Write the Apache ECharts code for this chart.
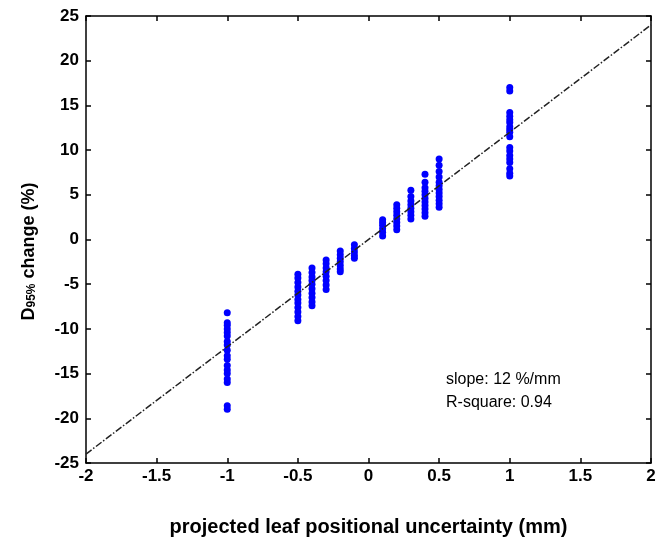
<!DOCTYPE html>
<html>
<head>
<meta charset="utf-8">
<script src="https://cdn.jsdelivr.net/npm/echarts@6/dist/echarts.min.js"></script>
<style>
  html, body { margin: 0; padding: 0; background: #fff; }
  #chart { width: 667px; height: 542px; }
</style>
</head>
<body>
<div id="chart"></div>
<script>
// leaf shift (mm) -> D95% change (%) samples
const shifts = [-1, -0.5, -0.4, -0.3, -0.2, -0.1, 0.1, 0.2, 0.3, 0.4, 0.5, 1]
const changes = [
  [-8.2, -9.3, -9.6, -10.0, -10.4, -10.8, -11.4, -11.8, -12.4, -13.0, -13.4, -14.1, -14.6, -15.0, -15.6, -16.0, -18.6, -19.0],
  [-3.9, -4.3, -4.8, -5.3, -5.8, -6.2, -6.7, -7.1, -7.6, -8.1, -8.6, -9.1],
  [-3.2, -3.7, -4.2, -4.6, -5.0, -5.5, -6.0, -6.5, -7.0, -7.4],
  [-2.3, -2.7, -3.2, -3.6, -4.1, -4.6, -5.1, -5.6],
  [-1.3, -1.7, -2.1, -2.5, -2.9, -3.3, -3.6],
  [-0.6, -1.0, -1.4, -1.8, -2.1],
  [0.4, 0.8, 1.2, 1.6, 1.9, 2.2],
  [1.1, 1.5, 1.9, 2.3, 2.7, 3.1, 3.5, 3.9],
  [2.3, 2.7, 3.1, 3.5, 3.9, 4.3, 4.8, 5.5],
  [2.6, 3.0, 3.4, 3.8, 4.2, 4.6, 5.0, 5.4, 5.8, 6.4, 7.3],
  [3.6, 4.0, 4.4, 4.8, 5.2, 5.6, 6.0, 6.4, 7.0, 7.6, 8.3, 9.0],
  [7.1, 7.4, 7.9, 8.6, 9.0, 9.4, 9.9, 10.3, 11.5, 12.0, 12.3, 12.6, 13.1, 13.4, 13.8, 14.2, 16.6, 17.0]
]
const fitX = [-2, 2]
const fitY = [-24, 24]
const xTicks = { min: -2, max: 2, interval: 0.5 }
const yTicks = { min: -25, max: 25, interval: 5 }

const points = []
shifts.forEach((s, i) => changes[i].forEach(v => points.push([s, v])))

const FONT = 'Liberation Sans, Arial, sans-serif'
const tickLabel = { color: '#000', fontSize: 17, fontWeight: 'bold', fontFamily: FONT }
const boxLine = { show: true, onZero: false, lineStyle: { color: '#000', width: 1.5 } }
const inTick = { show: true, inside: true, length: 5, lineStyle: { color: '#000', width: 1.5 } }

const chart = echarts.init(document.getElementById('chart'))
chart.setOption({
  animation: false,
  grid: { left: 86, top: 16, right: 16, bottom: 76, containLabel: false },
  xAxis: [
    {
      type: 'value', ...xTicks, position: 'bottom',
      axisLine: boxLine, axisTick: inTick, splitLine: { show: false },
      axisLabel: { ...tickLabel, margin: 5, formatter: v => String(v) },
      name: 'projected leaf positional uncertainty (mm)',
      nameLocation: 'middle', nameGap: 54,
      nameTextStyle: { color: '#000', fontSize: 20, fontWeight: 'bold', fontFamily: FONT }
    },
    {
      type: 'value', ...xTicks, position: 'top',
      axisLine: boxLine, axisTick: inTick, splitLine: { show: false }, axisLabel: { show: false }
    }
  ],
  yAxis: [
    {
      type: 'value', ...yTicks, position: 'left',
      axisLine: boxLine, axisTick: inTick, splitLine: { show: false },
      axisLabel: { ...tickLabel, margin: 7 },
      name: '{d|D}{s|95%}{d| change (%)}',
      nameLocation: 'middle', nameGap: 48, nameRotate: 90,
      nameTextStyle: {
        padding: [0, 24, 0, 0],
        rich: {
          d: { color: '#000', fontSize: 18, fontWeight: 'bold', fontFamily: FONT },
          s: { color: '#000', fontSize: 12, fontWeight: 'bold', fontFamily: FONT, verticalAlign: 'bottom', padding: [6, 0, 0, 0] }
        }
      }
    },
    {
      type: 'value', ...yTicks, position: 'right',
      axisLine: boxLine, axisTick: inTick, splitLine: { show: false }, axisLabel: { show: false }
    }
  ],
  series: [
    {
      type: 'line',
      data: fitX.map((x, i) => [x, fitY[i]]),
      symbol: 'none',
      lineStyle: { color: '#222', width: 1.5, type: [7, 2, 1.5, 2] },
      z: 3
    },
    {
      type: 'scatter',
      data: points,
      symbol: 'circle',
      symbolSize: 7,
      itemStyle: { color: '#0000ff', opacity: 1 },
      z: 2
    }
  ],
  graphic: [
    { type: 'text', left: 446, top: 372, style: { text: 'slope: 12 %/mm', fill: '#000', fontSize: 16, fontFamily: FONT } },
    { type: 'text', left: 446, top: 395, style: { text: 'R-square: 0.94', fill: '#000', fontSize: 16, fontFamily: FONT } }
  ]
})
</script>
</body>
</html>
